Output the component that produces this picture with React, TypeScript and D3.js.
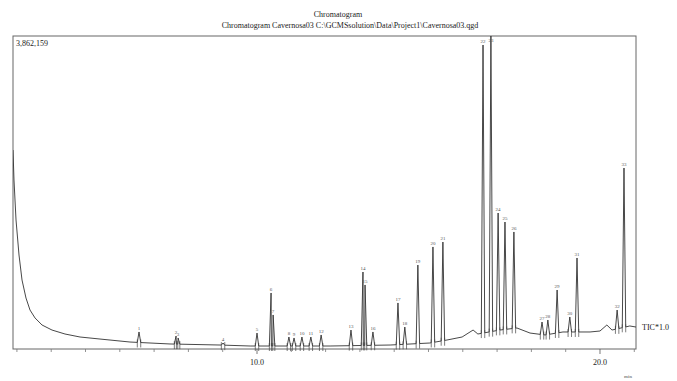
import React from "react";
import * as d3 from "d3";

const TITLE = "Chromatogram";
const SUBTITLE = "Chromatogram Cavernosa03 C:\\GCMSsolution\\Data\\Project1\\Cavernosa03.qgd";
const MAX_LABEL = "3,862,159";
const TRACE_LABEL = "TIC*1.0";
const X_UNIT = "min";
const X_DOMAIN = [2.886, 21.05];
const Y_MAX = 3862159;
const MAJOR_TICKS = [10.0, 20.0];
const MINOR_TICKS = [3, 4, 5, 6, 7, 8, 9, 11, 12, 13, 14, 15, 16, 17, 18, 19, 21];

// baseline (solvent tail + drift), retention time (min) / intensity
const baseTimes = [2.886, 2.915, 2.974, 3.061, 3.149, 3.265, 3.382, 3.528, 3.732, 4.023, 4.402, 4.84, 5.423, 6.297, 7.464, 8.921, 9.8, 12.13, 13.88, 15.04, 15.54, 15.98, 16.3, 16.44, 17.08, 17.58, 17.96, 18.4, 18.92, 19.71, 20.0, 20.2, 20.35, 20.87, 21.05];
const baseValues = [2455000, 2085000, 1592000, 1160000, 851000, 629000, 481000, 383000, 296000, 234000, 185000, 148000, 123000, 86000, 62000, 49000, 37000, 37000, 49000, 74000, 111000, 148000, 234000, 185000, 234000, 259000, 197000, 173000, 210000, 210000, 222000, 296000, 234000, 284000, 271000];

// peaks: retention time (min) / apex intensity
const peakTimes = [6.56, 7.64, 7.70, 9.01, 10.0, 10.41, 10.47, 10.93, 11.08, 11.31, 11.57, 11.87, 12.74, 13.09, 13.15, 13.38, 14.11, 14.31, 14.69, 15.13, 15.42, 16.59, 16.82, 17.03, 17.23, 17.49, 18.31, 18.48, 18.75, 19.12, 19.33, 20.5, 20.7];
const peakValues = [210000, 160000, 136000, 74000, 197000, 691000, 420000, 148000, 136000, 148000, 148000, 173000, 234000, 950000, 790000, 210000, 568000, 271000, 1036000, 1259000, 1320000, 3751000, 3862159, 1678000, 1567000, 1444000, 333000, 358000, 728000, 395000, 1123000, 481000, 2233000];
const peakLabels = peakTimes.map((_, i) => String(i + 1));

const W = 677;
const H = 381;
const M = { left: 13, right: 636, top: 36, bottom: 349 };

export default function App() {
  const x = d3.scaleLinear().domain(X_DOMAIN).range([M.left, M.right]);
  const y = d3.scaleLinear().domain([0, Y_MAX]).range([M.bottom, M.top]);
  const base = d3.scaleLinear().domain(baseTimes).range(baseValues).clamp(true);

  const w = 0.05;
  const pts: [number, number][] = baseTimes.map((t, i) => [t, baseValues[i]]);
  peakTimes.forEach((t, i) => {
    pts.push([t - w, base(t - w)]);
    pts.push([t, peakValues[i]]);
    pts.push([t + w, base(t + w)]);
  });
  pts.sort((a, b) => a[0] - b[0]);
  const line = d3
    .line<[number, number]>()
    .x((d) => x(d[0]))
    .y((d) => y(d[1]));

  const font = "'Liberation Serif', 'DejaVu Serif', serif";

  return (
    <svg width={W} height={H} style={{ position: "fixed", left: 0, top: 0, background: "#fff" }} fontFamily={font}>
      <rect x={0} y={0} width={W} height={H} fill="#fff" />
      <text x={338} y={17} textAnchor="middle" fontSize={8} fill="#222">{TITLE}</text>
      <text x={350} y={28} textAnchor="middle" fontSize={8} fill="#222">{SUBTITLE}</text>
      <rect x={M.left} y={M.top} width={M.right - M.left} height={M.bottom - M.top} fill="none" stroke="#666" strokeWidth={1} />
      <text x={16} y={46} fontSize={8} fill="#222">{MAX_LABEL}</text>
      <defs>
        <clipPath id="plotclip">
          <rect x={M.left} y={M.top - 2} width={M.right - M.left} height={M.bottom - M.top + 12} />
        </clipPath>
      </defs>
      <g clipPath="url(#plotclip)">
        <path d={line(pts) || ""} fill="none" stroke="#333" strokeWidth={0.9} />
        {peakTimes.map((t, i) => (
          <g key={i}>
            <line x1={x(t - w)} x2={x(t - w)} y1={y(base(t)) - 3} y2={y(base(t)) + 5} stroke="#444" strokeWidth={0.7} />
            <line x1={x(t + w)} x2={x(t + w)} y1={y(base(t)) - 3} y2={y(base(t)) + 5} stroke="#444" strokeWidth={0.7} />
          </g>
        ))}
      </g>
      {peakTimes.map((t, i) => (
        <text key={"l" + i} x={x(t)} y={Math.max(y(peakValues[i]) - 2, M.top + 6)} textAnchor="middle" fontSize={5} fill="#555">
          {peakLabels[i]}
        </text>
      ))}
      {MINOR_TICKS.map((t) => (
        <line key={"m" + t} x1={x(t)} x2={x(t)} y1={M.bottom} y2={M.bottom + 3} stroke="#777" strokeWidth={0.8} />
      ))}
      {MAJOR_TICKS.map((t) => (
        <g key={"M" + t}>
          <line x1={x(t)} x2={x(t)} y1={M.bottom} y2={M.bottom + 5} stroke="#555" strokeWidth={0.8} />
          <text x={x(t)} y={M.bottom + 16} textAnchor="middle" fontSize={8} fill="#222">{t.toFixed(1)}</text>
        </g>
      ))}
      <text x={628} y={378} textAnchor="middle" fontSize={5} fill="#444">{X_UNIT}</text>
      <text x={642} y={330} fontSize={8} fill="#222">{TRACE_LABEL}</text>
    </svg>
  );
}
